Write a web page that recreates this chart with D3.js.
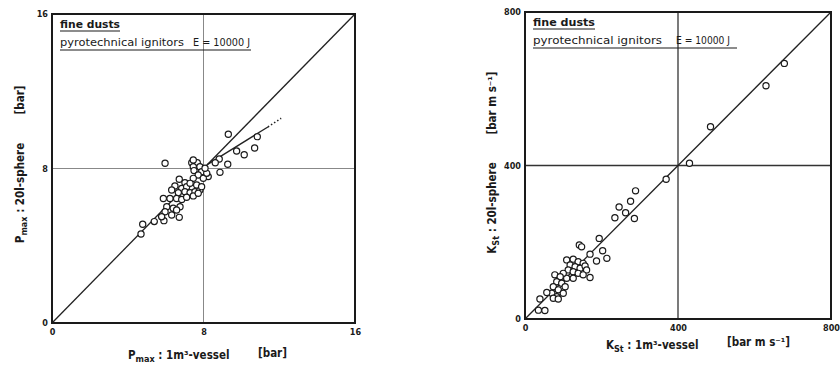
<!DOCTYPE html>
<html>
<head>
<meta charset="utf-8">
<script src="https://cdn.jsdelivr.net/npm/d3@7"></script>
<style>
  body { margin: 0; background: #fff; }
  svg text { font-family: "DejaVu Sans Condensed", "DejaVu Sans", sans-serif; fill: #1a1a1a; }
  .tick text { font-size: 9px; font-weight: bold; }
  .lbl { font-weight: bold; }
</style>
</head>
<body>
<svg id="chart" width="840" height="365"></svg>
<script>
// ---- data: P_max (bar), 1 m3 vessel vs 20 l sphere ----
const pmaxVessel = [4.79, 4.70, 5.40, 5.91, 6.72, 5.97, 9.31, 10.84, 10.70, 10.15, 9.75, 9.28, 8.87, 8.83, 8.62, 8.25,
  7.38, 7.67, 7.46, 7.81, 7.50, 7.90, 7.72, 7.99, 7.46, 8.17, 8.08, 6.72, 7.02, 6.49, 6.85, 7.11, 6.32, 6.67, 7.02,
  7.29, 7.55, 7.81, 7.64, 7.29, 5.88, 6.23, 6.58, 6.85, 7.11, 7.46, 7.72, 7.90, 6.06, 6.40, 6.76, 5.97, 6.32, 6.58,
  5.79, 7.46];
const pmaxSphere = [5.11, 4.61, 5.25, 5.30, 5.47, 8.27, 9.77, 9.65, 9.06, 8.71, 8.91, 8.22, 7.80, 8.49, 8.30, 7.58,
  8.30, 8.30, 8.09, 8.09, 7.89, 7.83, 7.66, 7.49, 7.49, 7.75, 8.01, 7.44, 7.26, 7.09, 6.97, 7.06, 6.89, 6.75, 6.80,
  6.75, 6.80, 6.89, 7.15, 7.23, 6.45, 6.45, 6.45, 6.40, 6.51, 6.58, 6.72, 7.06, 6.02, 5.94, 6.02, 5.76, 5.59, 5.85,
  5.50, 8.44];
const pmaxTicks = [0, 8, 16];
const pmaxFitSolid = [[8.2, 8.2], [11.4, 10.15]];
const pmaxFitDotted = [[11.4, 10.15], [12.1, 10.6]];

// ---- data: K_St (bar m/s), 1 m3 vessel vs 20 l sphere ----
const kstVessel = [678, 630, 485, 430, 369, 289, 276, 246, 263, 235, 286, 194, 203, 214, 142, 148, 170, 187, 170,
  109, 126, 139, 152, 118, 131, 144, 157, 161, 113, 126, 139, 152, 109, 126, 100, 78, 92, 83, 96, 105, 74, 87,
  70, 83, 100, 74, 87, 57, 39, 35, 52];
const kstSphere = [666, 608, 501, 406, 364, 334, 307, 292, 277, 264, 262, 210, 178, 158, 193, 188, 169, 151, 108,
  154, 156, 149, 145, 141, 136, 132, 138, 128, 128, 123, 119, 115, 106, 106, 119, 115, 110, 97, 93, 84, 84, 76,
  67, 58, 67, 54, 52, 69, 52, 23, 22];
const kstTicks = [0, 400, 800];

const svg = d3.select('#chart');

function drawPanel(opt) {
  const { x, y, xs, ys, ticks } = opt;
  const g = svg.append('g');
  const [x0, x1] = x.range();
  const [y0, y1] = y.range();

  // grid cross at mid tick
  g.append('line').attr('x1', x(ticks[1])).attr('x2', x(ticks[1])).attr('y1', y0).attr('y2', y1)
    .attr('stroke', opt.gridColor).attr('stroke-width', opt.gridWidth);
  g.append('line').attr('x1', x0).attr('x2', x1).attr('y1', y(ticks[1])).attr('y2', y(ticks[1]))
    .attr('stroke', opt.gridColor).attr('stroke-width', opt.gridWidth);

  // diagonal 1:1 line
  const dom = x.domain();
  g.append('line').attr('x1', x(dom[0])).attr('y1', y(dom[0])).attr('x2', x(dom[1])).attr('y2', y(dom[1]))
    .attr('stroke', '#222').attr('stroke-width', 1.3);

  // fit line (left panel only)
  const line = d3.line().x(d => x(d[0])).y(d => y(d[1]));
  if (opt.fitSolid) {
    g.append('path').attr('d', line(opt.fitSolid)).attr('fill', 'none')
      .attr('stroke', '#222').attr('stroke-width', 1.3);
    g.append('path').attr('d', line(opt.fitDotted)).attr('fill', 'none')
      .attr('stroke', '#222').attr('stroke-width', 1.6).attr('stroke-dasharray', '1.5,2.2');
  }

  // frame
  g.append('rect').attr('x', x0).attr('y', y1).attr('width', x1 - x0).attr('height', y0 - y1)
    .attr('fill', 'none').attr('stroke', '#1a1a1a').attr('stroke-width', 2);

  // points
  g.selectAll('circle.pt').data(xs).enter().append('circle').attr('class', 'pt')
    .attr('cx', d => x(d)).attr('cy', (d, i) => y(ys[i])).attr('r', 3.1)
    .attr('fill', '#fff').attr('stroke', '#1a1a1a').attr('stroke-width', 1.2);

  // axes (labels only)
  g.append('g').attr('transform', `translate(0,${y0})`)
    .call(d3.axisBottom(x).tickValues(ticks).tickSize(0).tickPadding(6).tickFormat(d3.format('d')))
    .call(a => a.select('.domain').remove());
  g.append('g').attr('transform', `translate(${x0},0)`)
    .call(d3.axisLeft(y).tickValues(ticks).tickSize(0).tickPadding(4).tickFormat(d3.format('d')))
    .call(a => a.select('.domain').remove());

  // annotation box
  const tx = x0 + 8;
  g.append('text').attr('class', 'lbl').attr('x', tx).attr('y', y1 + 14).attr('font-size', 10.5)
    .attr('textLength', opt.fineLen).attr('lengthAdjust', 'spacingAndGlyphs').text('fine dusts');
  g.append('line').attr('x1', tx).attr('x2', tx + opt.fineLen).attr('y1', y1 + 17).attr('y2', y1 + 17)
    .attr('stroke', '#1a1a1a').attr('stroke-width', 1.2);
  g.append('text').attr('x', tx).attr('y', y1 + 32).attr('font-size', 10.5)
    .attr('textLength', opt.pyroLen).attr('lengthAdjust', 'spacingAndGlyphs').text('pyrotechnical ignitors');
  g.append('text').attr('x', tx + opt.eOffset).attr('y', y1 + 32).attr('font-size', 10.5)
    .attr('textLength', opt.eLen).attr('lengthAdjust', 'spacingAndGlyphs').text('E = 10000 J');
  g.append('line').attr('x1', tx).attr('x2', opt.boxRight).attr('y1', y1 + 36).attr('y2', y1 + 36)
    .attr('stroke', '#1a1a1a').attr('stroke-width', 1.2);

  // axis titles
  const xt = g.append('text').attr('class', 'lbl').attr('x', opt.xTitle[0]).attr('y', opt.xTitle[1]).attr('font-size', 11.5);
  xt.append('tspan').text(opt.sym);
  xt.append('tspan').attr('dy', 3).attr('font-size', 9).text(opt.sub);
  xt.append('tspan').attr('dy', -3).text(' : 1m³-vessel');
  g.append('text').attr('class', 'lbl').attr('x', opt.xUnit[0]).attr('y', opt.xUnit[1]).attr('font-size', 11.5).text(opt.unit);

  const yt = g.append('text').attr('class', 'lbl')
    .attr('transform', `translate(${opt.yTitle[0]},${opt.yTitle[1]}) rotate(-90)`)
    .attr('text-anchor', 'middle').attr('font-size', 11.5);
  yt.append('tspan').text(opt.sym);
  yt.append('tspan').attr('dy', 3).attr('font-size', 9).text(opt.sub);
  yt.append('tspan').attr('dy', -3).text(' : 20l-sphere');
  g.append('text').attr('class', 'lbl')
    .attr('transform', `translate(${opt.yUnit[0]},${opt.yUnit[1]}) rotate(-90)`)
    .attr('text-anchor', 'middle').attr('font-size', 11.5).text(opt.unit);
}

drawPanel({
  x: d3.scaleLinear().domain([0, 16]).range([52, 355]),
  y: d3.scaleLinear().domain([0, 16]).range([323, 14]),
  xs: pmaxVessel, ys: pmaxSphere, ticks: pmaxTicks,
  fitSolid: pmaxFitSolid, fitDotted: pmaxFitDotted,
  gridColor: '#888', gridWidth: 1,
  fineLen: 60, pyroLen: 124, eOffset: 133, eLen: 57, boxRight: 251,
  sym: 'P', sub: 'max', unit: '[bar]',
  xTitle: [128, 359], xUnit: [258, 357],
  yTitle: [24, 193], yUnit: [24, 100]
});

drawPanel({
  x: d3.scaleLinear().domain([0, 800]).range([525, 831]),
  y: d3.scaleLinear().domain([0, 800]).range([319, 12]),
  xs: kstVessel, ys: kstSphere, ticks: kstTicks,
  gridColor: '#333', gridWidth: 1.3,
  fineLen: 62, pyroLen: 129, eOffset: 143, eLen: 54, boxRight: 737,
  sym: 'K', sub: 'St', unit: '[bar m s⁻¹]',
  xTitle: [606, 349], xUnit: [727, 346],
  yTitle: [496, 208], yUnit: [496, 103]
});
</script>
</body>
</html>
